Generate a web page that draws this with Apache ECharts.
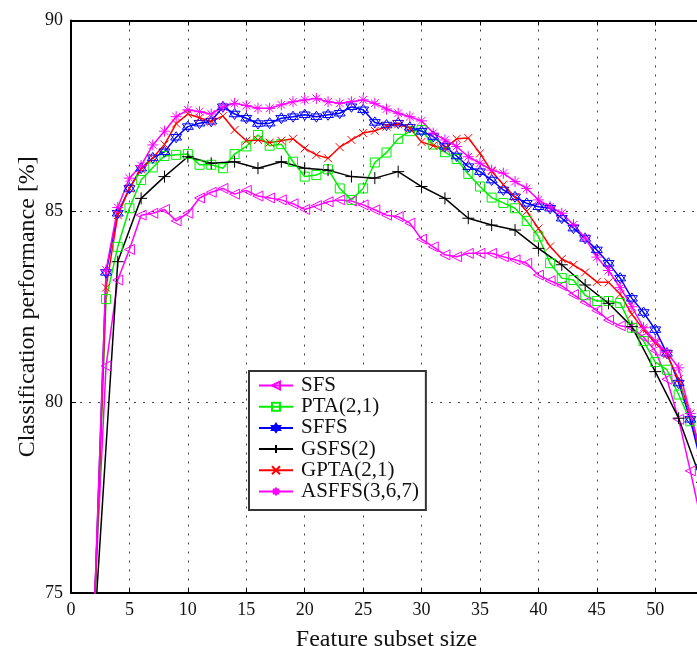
<!DOCTYPE html>
<html>
<head>
<meta charset="utf-8">
<script src="https://cdn.jsdelivr.net/npm/echarts@6/dist/echarts.min.js"></script>
<style>
html,body{margin:0;padding:0;background:#fff;}
#chart{width:697px;height:646px;}
</style>
</head>
<body>
<div id="chart"></div>
<script>
// ---- data ----
const featureSizes = [2,3,4,5,6,7,8,9,10,11,12,13,14,15,16,17,18,19,20,21,22,23,24,25,26,27,28,29,30,31,32,33,34,35,36,37,38,39,40,41,42,43,44,45,46,47,48,49,50,51,52,53,54];
const sfs = [74.7,80.95,83.2,84.0,84.9,84.95,85.05,84.75,84.95,85.35,85.5,85.6,85.45,85.55,85.4,85.35,85.3,85.2,85.05,85.15,85.25,85.3,85.27,85.17,85.04,84.9,84.86,84.69,84.27,84.07,83.86,83.81,83.9,83.9,83.9,83.81,83.73,83.64,83.33,83.18,83.05,82.82,82.62,82.4,82.15,82.0,81.95,81.7,81.35,80.6,79.55,78.2,76.8];
const pta = [74.3,82.7,84.07,85.08,85.82,86.15,86.45,86.48,86.5,86.22,86.22,86.13,86.5,86.7,87.0,86.72,86.76,86.3,85.91,85.95,86.1,85.6,85.3,85.6,86.28,86.54,86.9,87.1,87.13,86.75,86.55,86.37,85.98,85.65,85.36,85.22,85.08,84.75,84.34,83.64,83.25,83.2,82.8,82.65,82.65,82.6,81.95,81.6,81.05,80.85,80.2,79.5,78.5];
const sffs = [74.5,83.4,84.95,85.6,86.13,86.4,86.56,86.94,87.22,87.31,87.36,87.74,87.55,87.44,87.3,87.31,87.44,87.48,87.53,87.48,87.53,87.57,87.74,87.66,87.33,87.26,87.31,87.2,87.1,86.96,86.7,86.45,86.17,86.04,85.82,85.56,85.38,85.21,85.12,85.08,84.82,84.56,84.29,83.99,83.64,83.25,82.72,82.35,81.9,81.28,80.5,79.55,78.3];
const gsfsSizes = [2,4,6,8,10,12,14,16,18,20,22,24,26,28,30,32,34,36,38,40,42,44,46,48,50,52,54];
const gsfs = [74.0,83.68,85.34,85.91,86.43,86.26,86.3,86.13,86.3,86.13,86.08,85.91,85.87,86.04,85.65,85.34,84.82,84.64,84.51,84.03,83.6,83.07,82.59,81.98,80.8,79.58,77.9];
const gpta = [74.5,83.0,84.9,85.6,86.1,86.4,86.75,87.3,87.55,87.45,87.35,87.5,87.13,86.85,86.87,86.8,86.85,86.9,86.65,86.48,86.39,86.68,86.87,87.05,87.11,87.22,87.28,87.18,86.82,86.72,86.65,86.9,86.92,86.52,86.05,85.7,85.37,85.0,84.55,84.08,83.75,83.6,83.4,83.15,83.14,82.83,82.3,81.9,81.55,81.25,80.6,79.7,78.5];
const asffs = [74.6,83.46,85.1,85.87,86.2,86.74,87.1,87.48,87.66,87.61,87.55,87.74,87.83,87.77,87.7,87.7,87.79,87.87,87.92,87.96,87.87,87.83,87.87,87.92,87.83,87.68,87.57,87.48,87.37,87.05,86.87,86.7,86.43,86.26,86.08,86.0,85.78,85.6,85.3,85.12,84.95,84.65,84.3,83.8,83.45,83.0,82.5,81.95,81.6,81.3,80.9,79.7,78.6];
const seriesNames = ['SFS','PTA(2,1)','SFFS','GSFS(2)','GPTA(2,1)','ASFFS(3,6,7)'];
const xTitle = 'Feature subset size';
const yTitle = 'Classification performance [%]';

// ---- styling ----
const FONT = 'Liberation Serif';
const SYM = {
  triLeft: 'path://M0,5 L10,0 L10,10 Z',
  square: 'path://M0,0 L10,0 L10,10 L0,10 Z',
  hexagram: 'path://M5,0 L9.33,7.5 L0.67,7.5 Z M5,10 L0.67,2.5 L9.33,2.5 Z',
  plus: 'path://M5,0 L5,10 M0,5 L10,5',
  cross: 'path://M0,0 L10,10 M10,0 L0,10',
  aster: 'path://M5,0 L5,10 M0,5 L10,5 M1.5,1.5 L8.5,8.5 M8.5,1.5 L1.5,8.5'
};
function mk(name, xsArr, ys, color, symbol, size) {
  return {
    name: name, type: 'line',
    data: xsArr.map((x, i) => [x, ys[i]]),
    symbol: symbol, symbolSize: size, showSymbol: true,
    lineStyle: { color: color, width: 1.5 },
    itemStyle: { color: 'rgba(255,255,255,0)', borderColor: color, borderWidth: 1 },
    emphasis: { disabled: true },
    animation: false
  };
}
const series = [
  mk(seriesNames[0], featureSizes, sfs, '#ff00ff', SYM.triLeft, 10),
  mk(seriesNames[1], featureSizes, pta, '#00ee00', SYM.square, 9),
  mk(seriesNames[2], featureSizes, sffs, '#0000ff', SYM.hexagram, 11),
  mk(seriesNames[3], gsfsSizes, gsfs, '#000000', SYM.plus, 12),
  mk(seriesNames[4], featureSizes, gpta, '#ff0000', SYM.cross, 8),
  mk(seriesNames[5], featureSizes, asffs, '#ff00ff', SYM.aster, 11)
];

const chart = echarts.init(document.getElementById('chart'), null, { renderer: 'canvas' });
const axisText = { color: '#111', fontFamily: FONT, fontSize: 18 };
chart.setOption({
  animation: false,
  backgroundColor: '#fff',
  grid: { left: 71, right: -5, top: 20.5, bottom: 53, outerBoundsMode: 'none', containLabel: false },
  legend: {
    orient: 'vertical', left: 249, top: 371,
    data: seriesNames,
    itemWidth: 34, itemHeight: 10, itemGap: 0.2,
    padding: [4, 7, 8, 9],
    backgroundColor: '#fff', borderColor: '#333', borderWidth: 2,
    textStyle: { fontFamily: FONT, fontSize: 21, color: '#111', lineHeight: 20, padding: [0, 0, 0, 3] },
    selectedMode: false
  },
  xAxis: [{
    type: 'value', min: 0, max: 54, interval: 5,
    name: xTitle, nameLocation: 'middle', nameGap: 35,
    nameTextStyle: { fontFamily: FONT, fontSize: 24, color: '#111' },
    axisLine: { lineStyle: { color: '#000', width: 2 } },
    axisTick: { inside: true, length: 5, lineStyle: { color: '#000' } },
    axisLabel: Object.assign({ margin: 8, showMaxLabel: false }, axisText),
    splitLine: { show: true, lineStyle: { color: '#444', type: [2, 7], width: 1 } }
  }, {
    type: 'value', min: 0, max: 54, interval: 5, position: 'top',
    axisLine: { show: true, lineStyle: { color: '#000', width: 2 } },
    axisTick: { show: true, inside: true, length: 5, lineStyle: { color: '#000' } },
    axisLabel: { show: false }, splitLine: { show: false }
  }],
  yAxis: [{
    type: 'value', min: 75, max: 90, interval: 5,
    name: yTitle, nameLocation: 'middle', nameGap: 31, nameMoveOverlap: false,
    nameTextStyle: { fontFamily: FONT, fontSize: 24, color: '#111' },
    axisLine: { show: true, lineStyle: { color: '#000', width: 2 } },
    axisTick: { show: true, inside: true, length: 5, lineStyle: { color: '#000' } },
    axisLabel: Object.assign({ margin: 8 }, axisText),
    splitLine: { show: true, lineStyle: { color: '#444', type: [2, 7], width: 1 } }
  }],
  series: series
});
</script>
</body>
</html>
